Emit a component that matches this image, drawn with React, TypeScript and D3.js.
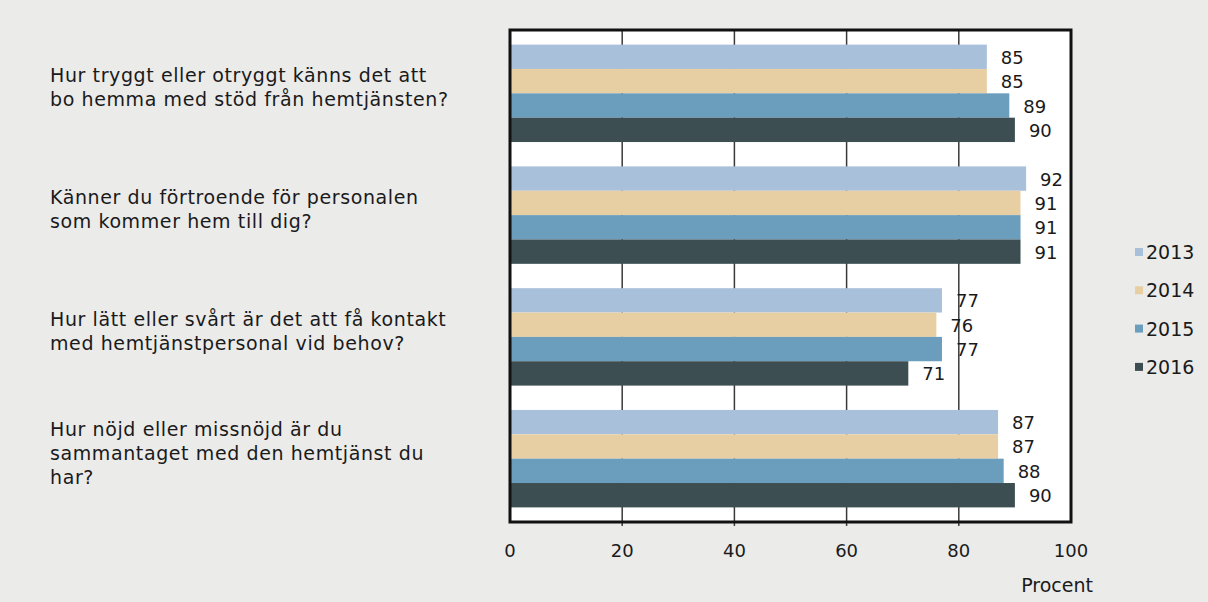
import React from "react";
import * as d3 from "d3";

const questions: string[][] = [
  ["Hur tryggt eller otryggt känns det att", "bo hemma med stöd från hemtjänsten?"],
  ["Känner du förtroende för personalen", "som kommer hem till dig?"],
  ["Hur lätt eller svårt är det att få kontakt", "med hemtjänstpersonal vid behov?"],
  ["Hur nöjd eller missnöjd är du", "sammantaget med den hemtjänst du", "har?"],
];
const years = ["2013", "2014", "2015", "2016"];
const values2013 = [85, 92, 77, 87];
const values2014 = [85, 91, 76, 87];
const values2015 = [89, 91, 77, 88];
const values2016 = [90, 91, 71, 90];
const xTicks = [0, 20, 40, 60, 80, 100];
const axisTitle = "Procent";

const series = [values2013, values2014, values2015, values2016];
const colors = ["#a9c0db", "#e8cfa3", "#6b9dbd", "#3c4e52"];

const W = 1208;
const H = 602;
const left = 510;
const right = 1071;
const top = 30;
const bottom = 522;
const FONT = "'DejaVu Sans', sans-serif";

export default function App() {
  const x = d3.scaleLinear().domain([0, 100]).range([left, right]);
  const keys = questions.map((_, i) => String(i));
  const y = d3.scaleBand<string>().domain(keys).range([top, bottom]).paddingInner(0.2).paddingOuter(0.12);
  const yi = d3.scaleBand<string>().domain(years).range([0, y.bandwidth()]);
  const lh = 24;

  return (
    <svg width={W} height={H} style={{ position: "absolute", left: 0, top: 0 }} fontFamily={FONT}>
      <rect x={0} y={0} width={W} height={H} fill="#ebebea" />
      <rect x={left} y={top} width={right - left} height={bottom - top} fill="#ffffff" />
      {xTicks.slice(1, -1).map((t) => (
        <line key={t} x1={x(t)} x2={x(t)} y1={top} y2={bottom + 4} stroke="#3a3a3a" strokeWidth={1.5} />
      ))}
      {keys.map((k, qi) => (
        <g key={k}>
          {years.map((yr, si) => {
            const v = series[si][qi];
            const y0 = (y(k) as number) + (yi(yr) as number);
            return (
              <g key={yr}>
                <rect x={x(0)} y={y0} width={x(v) - x(0)} height={yi.bandwidth()} fill={colors[si]} />
                <text x={x(v) + 14} y={y0 + yi.bandwidth() / 2 + 7} fontSize={18} fill="#1a1a1a">
                  {v}
                </text>
              </g>
            );
          })}
          {questions[qi].map((line, li) => {
            const c = (y(k) as number) + y.bandwidth() / 2;
            const first = c - ((questions[qi].length - 1) * lh) / 2 + 1;
            return (
              <text key={li} x={50} y={first + li * lh} fontSize={19} letterSpacing={0.6} fill="#1a1a1a">
                {line}
              </text>
            );
          })}
        </g>
      ))}
      <rect x={left} y={top} width={right - left} height={bottom - top} fill="none" stroke="#111" strokeWidth={3} />
      {xTicks.map((t) => (
        <text key={t} x={x(t)} y={557} fontSize={18} textAnchor="middle" fill="#1a1a1a">
          {t}
        </text>
      ))}
      <text x={1093} y={592} fontSize={19} textAnchor="end" fill="#1a1a1a">
        {axisTitle}
      </text>
      {years.map((yr, i) => (
        <g key={yr} transform={`translate(1135, ${252 + i * 38.3})`}>
          <rect x={0} y={-4} width={8} height={8} fill={colors[i]} />
          <text x={11} y={7} fontSize={19} fill="#1a1a1a">
            {yr}
          </text>
        </g>
      ))}
    </svg>
  );
}
